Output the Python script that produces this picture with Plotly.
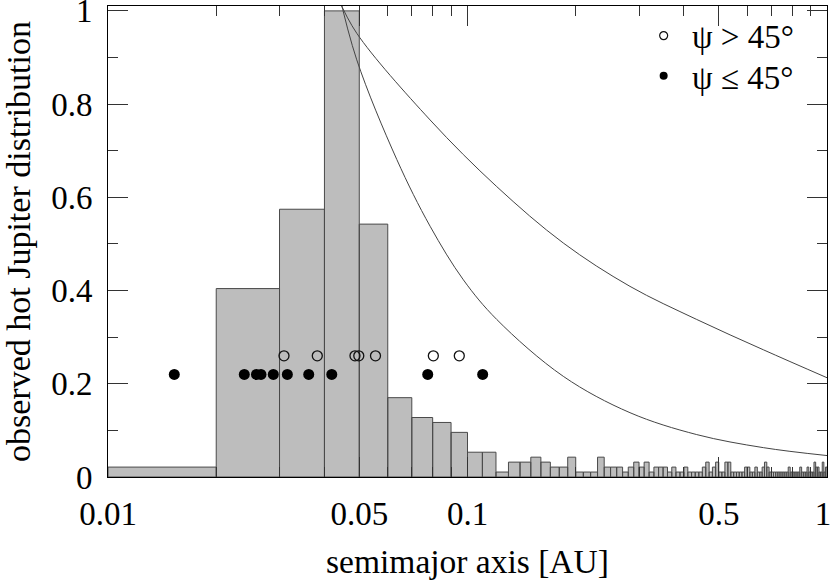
import plotly.graph_objects as go

# histogram: linear bins of width 0.01 AU from 0.01 to 1.00 (left edges)
bin_lo = [round(0.01 * k, 2) for k in range(1, 100)]
bin_width = 0.01
counts = [2, 38, 54, 94, 51, 16, 12, 11, 9, 5,
          5, 1, 3, 3, 4, 3, 2, 2, 4, 1,
          1, 1, 4, 2, 2, 2, 1, 2, 3, 2,
          3, 1, 2, 2, 2, 1, 2, 1, 1, 2,
          1, 1, 1, 1, 2, 3, 1, 2, 3, 1,
          1, 3, 3, 1, 1, 1, 1, 1, 2, 2,
          1, 1, 2, 1, 1, 2, 3, 2, 1, 1,
          1, 1, 1, 1, 1, 1, 1, 2, 1, 1,
          1, 1, 1, 2, 1, 1, 1, 2, 1, 1,
          1, 3, 2, 2, 1, 1, 3, 1, 2]
peak_count = 94

# planets, psi > 45 deg (open) and psi <= 45 deg (filled)
a_open = [0.03087, 0.03821, 0.04864, 0.04984, 0.05547, 0.08035, 0.09488]
y_open = 0.26
a_filled = [0.01529, 0.02394, 0.02588, 0.02664, 0.02883, 0.03154,
            0.03617, 0.04192, 0.07752, 0.11021]
y_filled = 0.22

# model curves
curve1_a = [0.0435, 0.0492, 0.0787, 0.1206, 0.1847, 0.2831, 0.4341, 0.665, 1.0]
curve1_y = [1.03, 0.952, 0.766, 0.623, 0.502, 0.409, 0.338, 0.273, 0.213]
curve2_a = [0.0435, 0.0492, 0.0636, 0.0787, 0.0974, 0.1206, 0.1847, 0.2831,
            0.4341, 0.665, 1.0]
curve2_y = [1.05, 0.895, 0.681, 0.538, 0.423, 0.338, 0.216, 0.138,
            0.091, 0.063, 0.046]

major_x = [0.01, 0.05, 0.1, 0.5, 1]
major_x_text = ["0.01", "0.05", "0.1", "0.5", "1\u00a0"]
minor_x = [0.02, 0.03, 0.04, 0.06, 0.07, 0.08, 0.09,
           0.2, 0.3, 0.4, 0.6, 0.7, 0.8, 0.9]
major_y = [0, 0.2, 0.4, 0.6, 0.8, 1]
major_y_text = ["0", "0.2", "0.4", "0.6", "0.8", "1"]
minor_y = [0.1, 0.3, 0.5, 0.7, 0.9]

FONT = "Liberation Serif"

# one closed polygon per bin
hx, hy = [], []
for lo, c in zip(bin_lo, counts):
    h = c / peak_count
    hi = lo + bin_width
    hx += [lo, lo, hi, hi, lo, None]
    hy += [0, h, h, 0, 0, None]

fig = go.Figure()
fig.add_trace(go.Scatter(x=hx, y=hy, mode="lines", fill="toself",
                         fillcolor="#bdbdbd",
                         line=dict(color="#4a4a4a", width=1),
                         showlegend=False, hoverinfo="skip"))

for ca, cy in [(curve1_a, curve1_y), (curve2_a, curve2_y)]:
    fig.add_trace(go.Scatter(x=ca, y=cy, mode="lines",
                             line=dict(color="#444444", width=1, shape="spline"),
                             showlegend=False))

fig.add_trace(go.Scatter(x=a_open, y=[y_open] * len(a_open), mode="markers",
                         marker=dict(symbol="circle-open", size=10, color="#111",
                                     line=dict(width=1.3)),
                         showlegend=False))
fig.add_trace(go.Scatter(x=a_filled, y=[y_filled] * len(a_filled), mode="markers",
                         marker=dict(symbol="circle", size=11, color="black"),
                         showlegend=False))

# legend entries, one legend box per row so the spacing can be set
fig.add_trace(go.Scatter(x=[None], y=[None], mode="markers", name="\u00a0ψ > 45°",
                         marker=dict(symbol="circle-open", size=8, color="#111",
                                     line=dict(width=1.2)),
                         legend="legend"))
fig.add_trace(go.Scatter(x=[None], y=[None], mode="markers", name="\u00a0ψ ≤ 45°",
                         marker=dict(symbol="circle", size=8, color="black"),
                         legend="legend2"))

axis_common = dict(
    showline=True, linecolor="black", linewidth=1, mirror="allticks",
    ticks="inside", tickcolor="#333333", tickwidth=1, ticklen=20,
    showgrid=False, zeroline=False, automargin=False,
    ticklabeloverflow="allow",
    tickfont=dict(family=FONT, size=33, color="black"),
)

fig.update_xaxes(
    type="log", range=[-2, 0],
    tickmode="array", tickvals=major_x, ticktext=major_x_text,
    ticklabelstandoff=7,
    minor=dict(tickmode="array", tickvals=minor_x, ticks="inside",
               ticklen=10, tickcolor="#333333", tickwidth=1, showgrid=False),
    title=dict(text="semimajor axis [AU]", font=dict(family=FONT, size=33.5, color="black"),
               standoff=24),
    **axis_common,
)
fig.update_yaxes(
    range=[0, 1.0105],
    tickmode="array", tickvals=major_y, ticktext=major_y_text,
    ticklabelstandoff=8,
    minor=dict(tickmode="array", tickvals=minor_y, ticks="inside",
               ticklen=10, tickcolor="#333333", tickwidth=1, showgrid=False),
    title=dict(text="observed hot Jupiter distribution",
               font=dict(family=FONT, size=34, color="black"), standoff=15),
    **axis_common,
)

legend_style = dict(x=0.745, xanchor="left", yanchor="middle",
                    bgcolor="rgba(0,0,0,0)", borderwidth=0,
                    font=dict(family=FONT, size=33, color="black"),
                    itemsizing="trace")

fig.update_layout(
    width=831, height=580,
    margin=dict(l=108, r=4, t=6, b=103),
    plot_bgcolor="white", paper_bgcolor="white",
    font=dict(family=FONT, size=33, color="black"),
    legend=dict(y=0.937, **legend_style),
    legend2=dict(y=0.852, **legend_style),
)

fig.write_html("out.html", config={"displayModeBar": False},
               post_script="document.body.style.margin='0';")
